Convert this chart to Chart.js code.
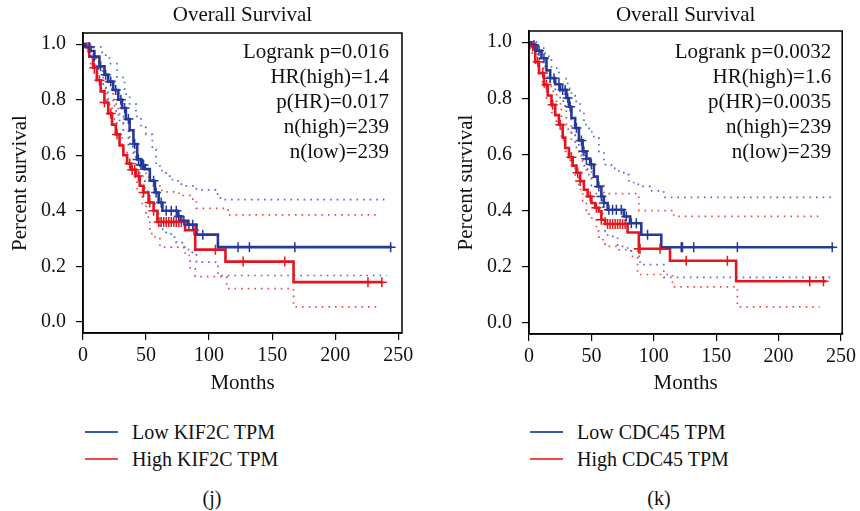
<!DOCTYPE html>
<html>
<head>
<meta charset="utf-8">
<script src="https://cdn.jsdelivr.net/npm/chart.js@4"></script>
<style>
  body { margin: 0; background: #fff; font-family: "Liberation Serif", serif; color: #111; }
  #wrap { position: relative; width: 860px; height: 511px; }
  .panel { position: absolute; top: 0; height: 400px; }
  .key { position: absolute; height: 2px; width: 33px; }
  .lab { position: absolute; font-size: 20px; line-height: 24px; white-space: nowrap; }
  .cap { position: absolute; font-size: 20px; line-height: 24px; transform: translateX(-50%); }
</style>
</head>
<body>
<div id="wrap">
  <div class="panel" style="left:0;width:430px"><canvas id="chartJ"></canvas></div>
  <div class="panel" style="left:446px;width:414px"><canvas id="chartK"></canvas></div>

  <div class="key" style="left:85px;top:431px;background:#3558b0"></div>
  <div class="lab" style="left:132px;top:420px">Low KIF2C TPM</div>
  <div class="key" style="left:85px;top:458px;background:#f04a4a"></div>
  <div class="lab" style="left:132px;top:447px">High KIF2C TPM</div>
  <div class="cap" style="left:212px;top:486px">(j)</div>

  <div class="key" style="left:530px;top:431px;background:#3558b0"></div>
  <div class="lab" style="left:577px;top:420px">Low CDC45 TPM</div>
  <div class="key" style="left:530px;top:458px;background:#f04a4a"></div>
  <div class="lab" style="left:577px;top:447px">High CDC45 TPM</div>
  <div class="cap" style="left:659px;top:486px">(k)</div>
</div>
<script>
// ---- ticks
var xTicks = [0, 50, 100, 150, 200, 250];
var yTicks = [0, 0.2, 0.4, 0.6, 0.8, 1.0];

// ---- panel (j) KIF2C : Kaplan-Meier steps (months, survival)
var lowTimeJ = [0, 2, 6, 9, 13, 17, 20, 24, 28, 31, 34, 37, 40, 43, 46, 49, 53, 57, 60, 63, 75, 78, 83, 90, 107, 245];
var lowSurvJ = [1, 0.99, 0.975, 0.955, 0.92, 0.89, 0.865, 0.835, 0.8, 0.77, 0.73, 0.69, 0.64, 0.585, 0.565, 0.55, 0.508, 0.466, 0.43, 0.4, 0.38, 0.364, 0.35, 0.314, 0.269, 0.269];
var highTimeJ = [0, 2, 5, 8, 11, 14, 17, 20, 23, 26, 29, 32, 35, 38, 42, 45, 48, 52, 56, 59, 81, 89, 113, 167, 238];
var highSurvJ = [1, 0.99, 0.955, 0.915, 0.87, 0.83, 0.79, 0.75, 0.71, 0.675, 0.635, 0.6, 0.57, 0.548, 0.525, 0.49, 0.466, 0.43, 0.4, 0.36, 0.33, 0.26, 0.217, 0.143, 0.143];
var lowCensorJ = [5, 9, 14, 18, 22, 26, 30, 33, 36, 41, 44, 46, 47, 48, 56, 58, 62, 66, 70, 74, 76, 80, 84, 87, 95, 123, 132, 168, 244];
var highCensorJ = [4, 9, 13, 17, 22, 27, 37, 39, 41, 44, 48, 53, 56, 60, 62, 64, 66, 68, 70, 72, 74, 76, 78, 88, 105, 127, 160, 226, 237];
// 95% bands
var lowUpTimeJ = [0, 9, 15, 21, 27, 33, 37, 42, 46, 50, 55, 58, 61, 66, 71, 78, 90, 105, 109, 241];
var lowUpSurvJ = [1, 0.99, 0.96, 0.93, 0.88, 0.82, 0.785, 0.74, 0.7, 0.675, 0.62, 0.567, 0.545, 0.525, 0.508, 0.49, 0.475, 0.46, 0.44, 0.44];
var lowLoTimeJ = [0, 3, 5, 10, 16, 20, 25, 29, 32, 36, 40, 45, 49, 53, 57, 61, 66, 70, 74, 80, 86, 90, 107, 241];
var lowLoSurvJ = [1, 0.98, 0.963, 0.91, 0.843, 0.8, 0.76, 0.72, 0.688, 0.63, 0.569, 0.509, 0.47, 0.425, 0.39, 0.334, 0.32, 0.305, 0.285, 0.26, 0.25, 0.215, 0.167, 0.167];
var highUpTimeJ = [0, 4, 9, 13, 18, 24, 28, 32, 37, 41, 46, 50, 55, 61, 66, 76, 85, 90, 115, 234];
var highUpSurvJ = [1, 0.987, 0.95, 0.903, 0.84, 0.784, 0.74, 0.688, 0.64, 0.593, 0.555, 0.521, 0.49, 0.473, 0.468, 0.455, 0.442, 0.409, 0.385, 0.385];
var highLoTimeJ = [0, 3, 6, 9, 14, 19, 23, 27, 31, 35, 39, 43, 47, 50, 53, 57, 61, 81, 85, 89, 114, 167, 234];
var highLoSurvJ = [1, 0.969, 0.93, 0.879, 0.83, 0.784, 0.73, 0.676, 0.62, 0.569, 0.52, 0.473, 0.42, 0.377, 0.318, 0.3, 0.269, 0.239, 0.191, 0.163, 0.12, 0.054, 0.054];
var statsJ = ["Logrank p=0.016", "HR(high)=1.4", "p(HR)=0.017", "n(high)=239", "n(low)=239"];

// ---- panel (k) CDC45
var lowTimeK = [0, 2, 6, 10, 14, 17, 21, 25, 30, 32, 34, 37, 40, 43, 46, 49, 52, 55, 58, 60, 63, 76, 81, 90, 106, 244];
var lowSurvK = [1, 0.99, 0.97, 0.943, 0.9, 0.872, 0.85, 0.83, 0.801, 0.77, 0.73, 0.694, 0.65, 0.611, 0.585, 0.564, 0.521, 0.486, 0.45, 0.427, 0.403, 0.379, 0.355, 0.314, 0.269, 0.269];
var highTimeK = [0, 2, 5, 8, 12, 15, 18, 21, 24, 27, 29, 32, 35, 38, 41, 44, 47, 50, 53, 56, 58, 61, 79, 88, 113, 166, 238];
var highSurvK = [1, 0.985, 0.93, 0.89, 0.848, 0.81, 0.777, 0.74, 0.706, 0.66, 0.623, 0.59, 0.56, 0.535, 0.505, 0.474, 0.45, 0.427, 0.41, 0.397, 0.367, 0.352, 0.322, 0.264, 0.221, 0.148, 0.148];
var lowCensorK = [4, 8, 12, 17, 20, 24, 27, 29, 31, 33, 38, 42, 44, 46, 50, 56, 58, 60, 64, 67, 70, 74, 78, 82, 86, 95, 122, 123, 132, 167, 243];
var highCensorK = [3, 7, 11, 14, 19, 25, 34, 39, 41, 49, 54, 58, 63, 65, 67, 69, 71, 73, 75, 77, 88, 89, 105, 126, 159, 225, 236];
var lowUpTimeK = [0, 8, 13, 18, 24, 31, 34, 37, 41, 44, 48, 52, 56, 60, 66, 72, 76, 80, 86, 90, 97, 108, 242];
var lowUpSurvK = [1, 0.979, 0.95, 0.908, 0.87, 0.836, 0.81, 0.789, 0.75, 0.706, 0.68, 0.659, 0.61, 0.564, 0.55, 0.535, 0.528, 0.5, 0.493, 0.486, 0.47, 0.447, 0.447];
var lowLoTimeK = [0, 5, 9, 13, 17, 21, 25, 29, 34, 37, 40, 44, 47, 50, 54, 59, 61, 63, 71, 79, 87, 89, 108, 242];
var lowLoSurvK = [1, 0.967, 0.93, 0.896, 0.86, 0.825, 0.79, 0.754, 0.67, 0.64, 0.6, 0.56, 0.528, 0.49, 0.457, 0.386, 0.326, 0.308, 0.272, 0.255, 0.237, 0.207, 0.162, 0.162];
var highUpTimeK = [0, 3, 7, 11, 15, 18, 22, 26, 30, 34, 38, 42, 46, 50, 55, 60, 88, 116, 233];
var highUpSurvK = [1, 0.979, 0.94, 0.908, 0.86, 0.825, 0.78, 0.73, 0.69, 0.647, 0.61, 0.576, 0.545, 0.517, 0.49, 0.46, 0.4, 0.379, 0.379];
var highLoTimeK = [0, 1, 5, 8, 11, 14, 18, 22, 26, 29, 33, 37, 40, 43, 46, 48, 54, 56, 61, 71, 82, 87, 115, 167, 233];
var highLoSurvK = [1, 0.961, 0.92, 0.884, 0.84, 0.801, 0.75, 0.706, 0.65, 0.611, 0.56, 0.517, 0.475, 0.434, 0.4, 0.374, 0.327, 0.296, 0.272, 0.26, 0.237, 0.172, 0.128, 0.057, 0.057];
var statsK = ["Logrank p=0.0032", "HR(high)=1.6", "p(HR)=0.0035", "n(high)=239", "n(low)=239"];

var blue = '#25399a', red = '#e3161f';
var blueCI = '#4a6cc8', redCI = '#f04545';
var serif = '"Liberation Serif", "DejaVu Serif", serif';

function pts(times, surv) {
    return times.map(function (t, i) { return { x: t, y: surv[i] }; });
}
function survAt(times, surv, t) {
    var s = surv[0];
    for (var i = 0; i < times.length; i++) { if (times[i] <= t) s = surv[i]; }
    return s;
}
function censorPts(ctimes, times, surv) {
    return ctimes.map(function (t) { return { x: t, y: survAt(times, surv, t) }; });
}

// box, title and statistics text
var kmDecor = {
    id: 'kmDecor',
    afterDraw: function (chart, args, opts) {
        var ctx = chart.ctx, a = chart.chartArea;
        ctx.save();
        ctx.strokeStyle = '#000';
        ctx.lineWidth = 1.5;
        ctx.strokeRect(a.left, a.top, a.right - a.left, a.bottom - a.top);
        ctx.fillStyle = '#111';
        ctx.font = '21px ' + serif;
        ctx.textBaseline = 'middle';
        ctx.textAlign = 'center';
        ctx.fillText('Overall Survival', (a.left + a.right) / 2, opts.titleY);
        ctx.textAlign = 'right';
        opts.lines.forEach(function (s, i) {
            ctx.fillText(s, a.right - opts.statsRight, 52 + i * 25);
        });
        ctx.restore();
    }
};

function makePanel(id, d, lay) {
    var stepLine = function (data, color, dashed, order) {
        return {
            data: data, showLine: true, stepped: true, pointRadius: 0,
            borderColor: color, borderWidth: dashed ? 1.7 : 2.6,
            borderDash: dashed ? [1.6, 5] : [], order: order
        };
    };
    var censor = function (data, color) {
        return {
            data: data, showLine: false, pointStyle: 'cross', pointRadius: 5,
            borderColor: color, borderWidth: 1.5, order: 0
        };
    };
    new Chart(document.getElementById(id), {
        type: 'scatter',
        data: {
            datasets: [
                censor(censorPts(d.lowC, d.lowT, d.lowS), blue),
                censor(censorPts(d.highC, d.highT, d.highS), red),
                stepLine(pts(d.lowT, d.lowS), blue, false, 1),
                stepLine(pts(d.highT, d.highS), red, false, 2),
                stepLine(pts(d.lowUpT, d.lowUpS), blueCI, true, 4),
                stepLine(pts(d.lowLoT, d.lowLoS), blueCI, true, 4),
                stepLine(pts(d.highUpT, d.highUpS), redCI, true, 5),
                stepLine(pts(d.highLoT, d.highLoS), redCI, true, 5)
            ]
        },
        options: {
            responsive: true,
            maintainAspectRatio: false,
            animation: false,
            layout: { padding: { top: lay.top, right: lay.right, left: 0, bottom: 0 } },
            plugins: {
                legend: { display: false },
                tooltip: { enabled: false },
                kmDecor: { titleY: 15, lines: d.stats, statsRight: lay.statsRight }
            },
            scales: {
                x: {
                    type: 'linear', min: 0, max: lay.xmax,
                    afterBuildTicks: function (s) { s.ticks = xTicks.map(function (v) { return { value: v }; }); },
                    afterFit: function (s) { s.height = lay.xh; },
                    grid: { drawOnChartArea: false, tickLength: 7, color: '#000', lineWidth: 1.2 },
                    border: { display: true, color: '#000', width: 1.5 },
                    ticks: { color: '#111', font: { family: serif, size: 20 }, padding: 4, maxRotation: 0 },
                    title: { display: true, text: 'Months', color: '#111', font: { family: serif, size: 21 }, padding: { top: 0, bottom: 4 } }
                },
                y: {
                    type: 'linear', min: -0.04, max: 1.04,
                    afterBuildTicks: function (s) { s.ticks = yTicks.map(function (v) { return { value: v }; }); },
                    afterFit: function (s) { s.width = 83; },
                    grid: { drawOnChartArea: false, tickLength: 7, color: '#000', lineWidth: 1.2 },
                    border: { display: true, color: '#000', width: 1.5 },
                    ticks: { color: '#111', font: { family: serif, size: 20 }, padding: 10, callback: function (v) { return v.toFixed(1); } },
                    title: { display: true, text: 'Percent survival', color: '#111', font: { family: serif, size: 21 }, padding: { top: 8, bottom: 0 } }
                }
            }
        },
        plugins: [kmDecor]
    });
}

makePanel('chartJ', {
    lowT: lowTimeJ, lowS: lowSurvJ, highT: highTimeJ, highS: highSurvJ,
    lowC: lowCensorJ, highC: highCensorJ,
    lowUpT: lowUpTimeJ, lowUpS: lowUpSurvJ, lowLoT: lowLoTimeJ, lowLoS: lowLoSurvJ,
    highUpT: highUpTimeJ, highUpS: highUpSurvJ, highLoT: highLoTimeJ, highLoS: highLoSurvJ,
    stats: statsJ
}, { top: 33, right: 28, xh: 67, xmax: 253, statsRight: 13 });

makePanel('chartK', {
    lowT: lowTimeK, lowS: lowSurvK, highT: highTimeK, highS: highSurvK,
    lowC: lowCensorK, highC: highCensorK,
    lowUpT: lowUpTimeK, lowUpS: lowUpSurvK, lowLoT: lowLoTimeK, lowLoS: lowLoSurvK,
    highUpT: highUpTimeK, highUpS: highUpSurvK, highLoT: highLoTimeK, highLoS: highLoSurvK,
    stats: statsK
}, { top: 31, right: 11, xh: 66, xmax: 251, statsRight: 11 });
</script>
</body>
</html>
